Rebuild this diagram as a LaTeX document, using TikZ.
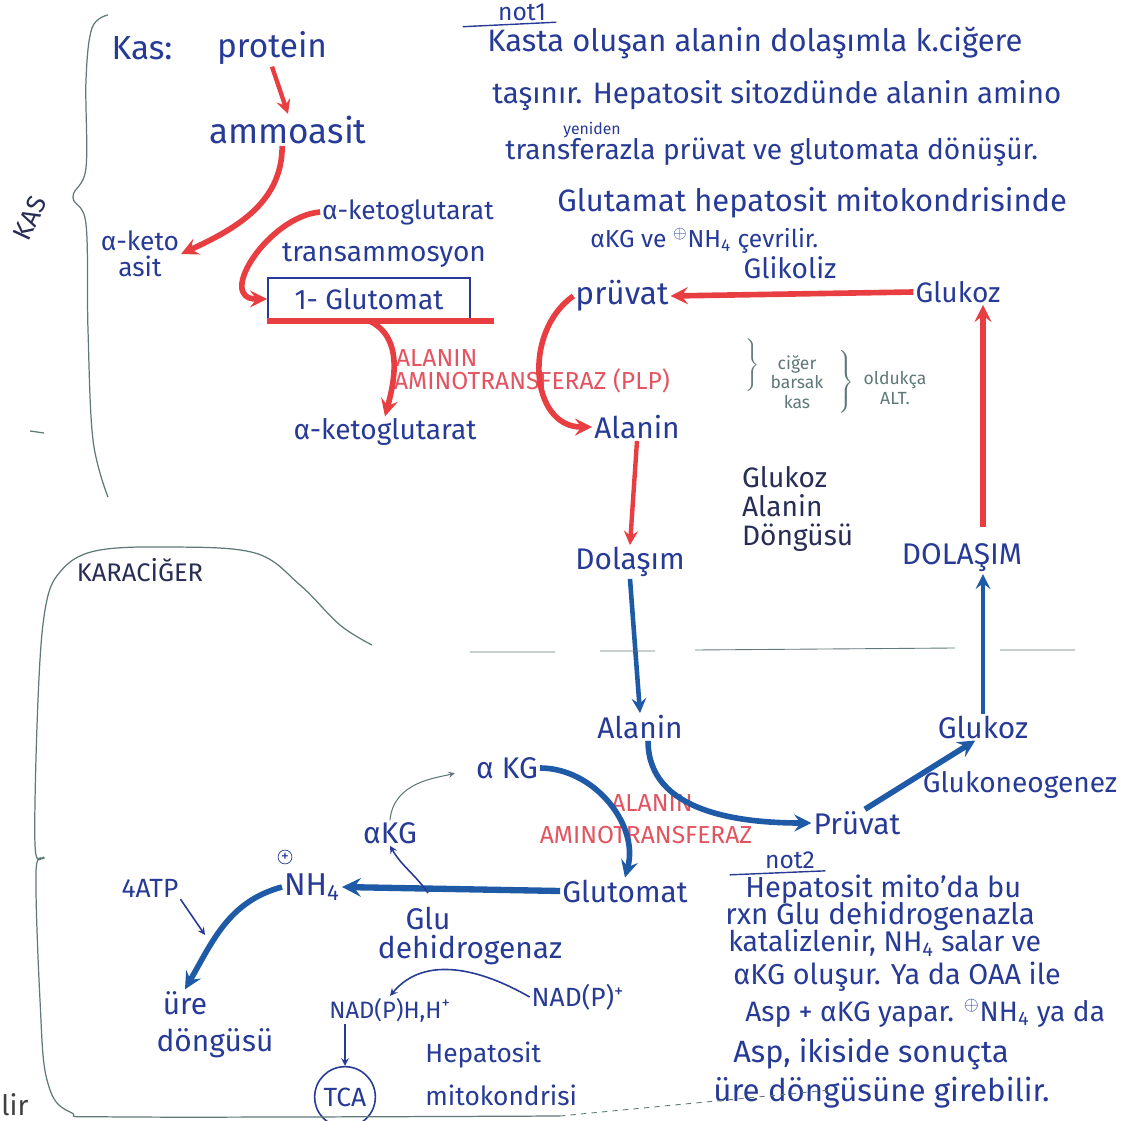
\documentclass[tikz,border=0pt]{standalone}
\usepackage{fontspec}
\setmainfont{Fira Sans}
\definecolor{inkblue}{RGB}{38,58,150}
\definecolor{darkink}{RGB}{40,45,85}
\definecolor{redmark}{RGB}{232,62,66}
\definecolor{redpen}{RGB}{226,84,96}
\definecolor{bluemark}{RGB}{30,90,165}
\definecolor{pencilgrey}{RGB}{95,120,120}
\newcommand{\fs}[1]{\fontsize{#1}{#1}\selectfont}

\begin{document}
\begin{tikzpicture}[x=0.02cm, y=-0.02cm,
        txt/.style={text=inkblue, font=\fs{17}, inner sep=1pt},
        note/.style={txt, anchor=west, font=\fs{16}, inner sep=0pt},
        redtxt/.style={text=redpen, font=\fs{14}, anchor=west, inner sep=1pt},
        pencil/.style={text=pencilgrey, font=\fontsize{10}{11}\selectfont, align=center, inner sep=1pt},
        redarr/.style={draw=redmark, line width=3.2pt, -stealth},
        bluearr/.style={draw=bluemark, line width=3.2pt, -stealth},
        thinarr/.style={draw=inkblue, line width=0.9pt, -stealth},
        bodyline/.style={draw=pencilgrey, line width=0.7pt}
    ]
    \useasboundingbox (0,0) rectangle (1133,1121);

    % kas (muscle) part
    \draw
        (30,218) node[txt, font=\fs{15}, rotate=65, text=darkink, inner sep=0pt] (kaslabel) {KAS}
        (142,48) node[txt, font=\fs{19}] (kas) {Kas:}
        (272,48) node[txt, font=\fs{19}] (protein) {protein}
        (288,130) node[txt, font=\fs{20}] (ammoasit) {ammoasit}
        (140,254) node[txt, font=\fs{15}, align=center] (aketo) {α-keto\\asit}
        (408,212) node[txt, font=\fs{15}] (akg1) {α-ketoglutarat}
        (384,255) node[txt, font=\fs{16}] (transam) {transammosyon}
        (369,299) node[txt, font=\fs{16}, draw=inkblue, line width=0.9pt, minimum width=4.04cm, minimum height=0.84cm] (glut1) {1- Glutomat}
        (385,432) node[txt, font=\fs{16}] (akg2) {α-ketoglutarat}
        (394,358) node[redtxt] (alat1) {ALANIN}
        (392,381) node[redtxt] (alat1b) {AMINOTRANSFERAZ (PLP)}
        (622,296) node[txt, font=\fs{18}] (pruv1) {prüvat}
        (790,268) node[txt, font=\fs{16}] (glikoliz) {Glikoliz}
        (958,292) node[txt, font=\fs{16}] (gluk1) {Glukoz}
        (637,427) node[txt] (alanin1) {Alanin}
        (630,562) node[txt] (dolasim1) {Dolaşım}
        (740,509) node[txt, anchor=west, text=darkink, font=\fontsize{16}{16.5}\selectfont, align=left] (cycle) {Glukoz\\Alanin\\Döngüsü}
        (962,558) node[txt] (dolasim2) {DOLAŞIM}

        (protein.south) edge[redarr, line width=2.5pt] (ammoasit.north)
        (ammoasit.-110) edge[redarr, out=-90, in=25] (aketo.east)
        (akg1.west) edge[redarr, out=185, in=180, looseness=1.3] (glut1.west)
        (glut1.south) edge[redarr, out=-25, in=75] (akg2.north)
        (pruv1.west) edge[redarr, out=215, in=180, looseness=1.2] (alanin1.west)
        (gluk1.west) edge[redarr] (pruv1.east)
        (alanin1.south) edge[redarr, line width=2.5pt] (dolasim1.north)
        ;
    \draw[redmark, line width=3.2pt] (glut1.south west) -- ++(227,0) coordinate (ulend);

    % pencil notes next to the enzyme
    \draw
        (752,365) node[pencil, font=\fs{10}] (br1) {$\left.\rule{0pt}{0.6cm}\right\}$}
        (797,382) node[pencil] (tissue) {ciğer\\barsak\\kas}
        (845,382) node[pencil] (br2) {$\left.\rule{0pt}{0.7cm}\right\}$}
        (895,388) node[pencil] (alt) {oldukça\\ALT.}
        ;

    % not 1
    \draw
        (522,12) node[txt, font=\fs{14}, inner sep=0pt] (not1) {not1}
        (487,43) node[note, font=\fs{17.6}] (n1) {Kasta oluşan alanin dolaşımla k.ciğere}
        (492,96) node[note, font=\fs{16.8}] (n2) {taşınır. Hepatosit sitozdünde alanin amino}
        (592,130) node[txt, font=\fs{9}] (n3a) {yeniden}
        (505,152) node[note, font=\fs{16}] (n3) {transferazla prüvat ve glutomata dönüşür.}
        (557,203) node[note, font=\fs{17.6}] (n4) {Glutamat hepatosit mitokondrisinde}
        (590,241) node[note, font=\fs{14}] (n5) {αKG ve $^{\oplus}$NH\textsubscript{4} çevrilir.}
        ;
    \draw[inkblue, line width=0.8pt] ([xshift=-0.7cm, yshift=-0.12cm]not1.south west) -- ([xshift=0.2cm, yshift=-0.03cm]not1.south east);

    % karaciger (liver) part
    \draw
        (140,570) node[txt, font=\fs{14.5}, text=darkink] (liver) {KARACİĞER}
        (640,727) node[txt] (alanin2) {Alanin}
        (983,727) node[txt] (gluk2) {Glukoz}
        (1020,785) node[txt, font=\fs{16}] (glukoneo) {Glukoneogenez}
        (857,823) node[txt] (pruv2) {Prüvat}
        (507,768) node[txt] (akg3) {α KG}
        (652,803) node[redtxt, anchor=center] (alat2) {ALANIN}
        (646,835) node[redtxt, anchor=center] (alat2b) {AMINOTRANSFERAZ}
        (625,891) node[txt] (glut2) {Glutomat}
        (390,833) node[txt] (akg4) {αKG}
        (428,918) node[txt] (glu) {Glu}
        (470,950) node[txt] (gludh) {dehidrogenaz}
        (312,887) node[txt, font=\fs{18}] (nh4) {NH\textsubscript{4}}
        (285,857) node[txt, font=\fs{9}, circle, draw=inkblue, inner sep=0.5pt] (plus) {+}
        (150,888) node[txt, font=\fs{15}] (atp) {4ATP}
        (185,1003) node[txt] (ure) {üre}
        (215,1043) node[txt] (dongu) {döngüsü}
        (578,997) node[txt, font=\fs{15}] (nadp) {NAD(P)\textsuperscript{+}}
        (390,1010) node[txt, font=\fs{13.5}] (nadph) {NAD(P)H,H\textsuperscript{+}}
        (345,1097) node[txt, font=\fs{15}, circle, draw=inkblue, line width=0.9pt, inner sep=3pt] (tca) {TCA}
        (425,1055) node[note, font=\fs{15}] (hep1) {Hepatosit}
        (425,1095) node[note, font=\fs{15}] (hep2) {mitokondrisi}
        (15,1105) node[text=black!75, font=\fs{16}] (lir) {lir}
        (205,935) coordinate (atpend)
        (428,893) coordinate (glufork)

        (dolasim1.south) edge[bluearr, line width=2.6pt] (alanin2.north)
        (gluk2.north) edge[bluearr, line width=2.6pt] (dolasim2.south -| gluk2)
        (pruv2.60) edge[bluearr] (gluk2.240)
        (akg3.east) edge[bluearr, out=0, in=75] (glut2.north)
        (alanin2.-60) edge[bluearr, out=-90, in=180] (pruv2.west)
        (glut2.west) edge[bluearr, line width=3.6pt] (nh4.east)
        (nh4.west) edge[bluearr, out=195, in=60] (ure.north)
        (atp.south east) edge[thinarr] (atpend)
        (glufork) edge[thinarr, out=125, in=-60] (akg4.south)
        (akg4.north) edge[thinarr, draw=pencilgrey, line width=0.6pt, out=85, in=195, shorten >=0.4cm] (akg3.west)
        (nadp.west) edge[thinarr, out=150, in=50] (nadph.north)
        (nadph.south -| tca) edge[thinarr] (tca.north)
        ;
    \draw[redmark, line width=3.2pt, -stealth, shorten <=0.3cm] (dolasim2.north -| gluk2) -- (gluk1.south -| gluk2);

    % not 2
    \draw
        (790,860) node[txt, font=\fs{14}, inner sep=0pt] (not2) {not2}
        (745,889) node[note, font=\fs{16.5}] (m1) {Hepatosit mito'da bu}
        (725,916) node[note, font=\fs{16.8}] (m2) {rxn Glu dehidrogenazla}
        (728,943) node[note, font=\fs{16.2}] (m3) {katalizlenir, NH\textsubscript{4} salar ve}
        (733,977) node[note, font=\fs{16.4}] (m4) {αKG oluşur. Ya da OAA ile}
        (745,1013) node[note] (m5) {Asp + αKG yapar. $^{\oplus}$NH\textsubscript{4} ya da}
        (733,1054) node[note, font=\fs{17.5}] (m6) {Asp, ikiside sonuçta}
        (713,1093) node[note, font=\fs{17.8}] (m7) {üre döngüsüne girebilir.}
        ;
    \draw[inkblue, line width=0.8pt] ([xshift=-0.7cm, yshift=-0.12cm]not2.south west) -- ([xshift=0.2cm, yshift=-0.04cm]not2.south east);

    % outlines
    \draw[bodyline] plot[smooth, tension=0.6] coordinates {(108,15) (92,28) (86,80) (86,168) (73,197) (86,224) (88,330) (93,440) (108,497)};
    \draw[bodyline] (30,431) -- (44,433);
    \draw[bodyline] plot[smooth, tension=0.6] coordinates {(372,645) (340,625) (300,585) (255,553) (170,547) (95,551) (60,572) (45,610) (38,700) (35,845) (44,858) (36,872) (40,1000) (47,1080) (70,1112) (130,1117) (560,1116)};
    \draw[bodyline, dashed, line width=0.5pt] (560,1116) -- (830,1090);
    \draw[bodyline, line width=0.5pt] (470,652) -- (555,652) (600,651) -- (655,651) (695,650) -- (955,648) (1000,650) -- (1075,650);
\end{tikzpicture}
\end{document}
